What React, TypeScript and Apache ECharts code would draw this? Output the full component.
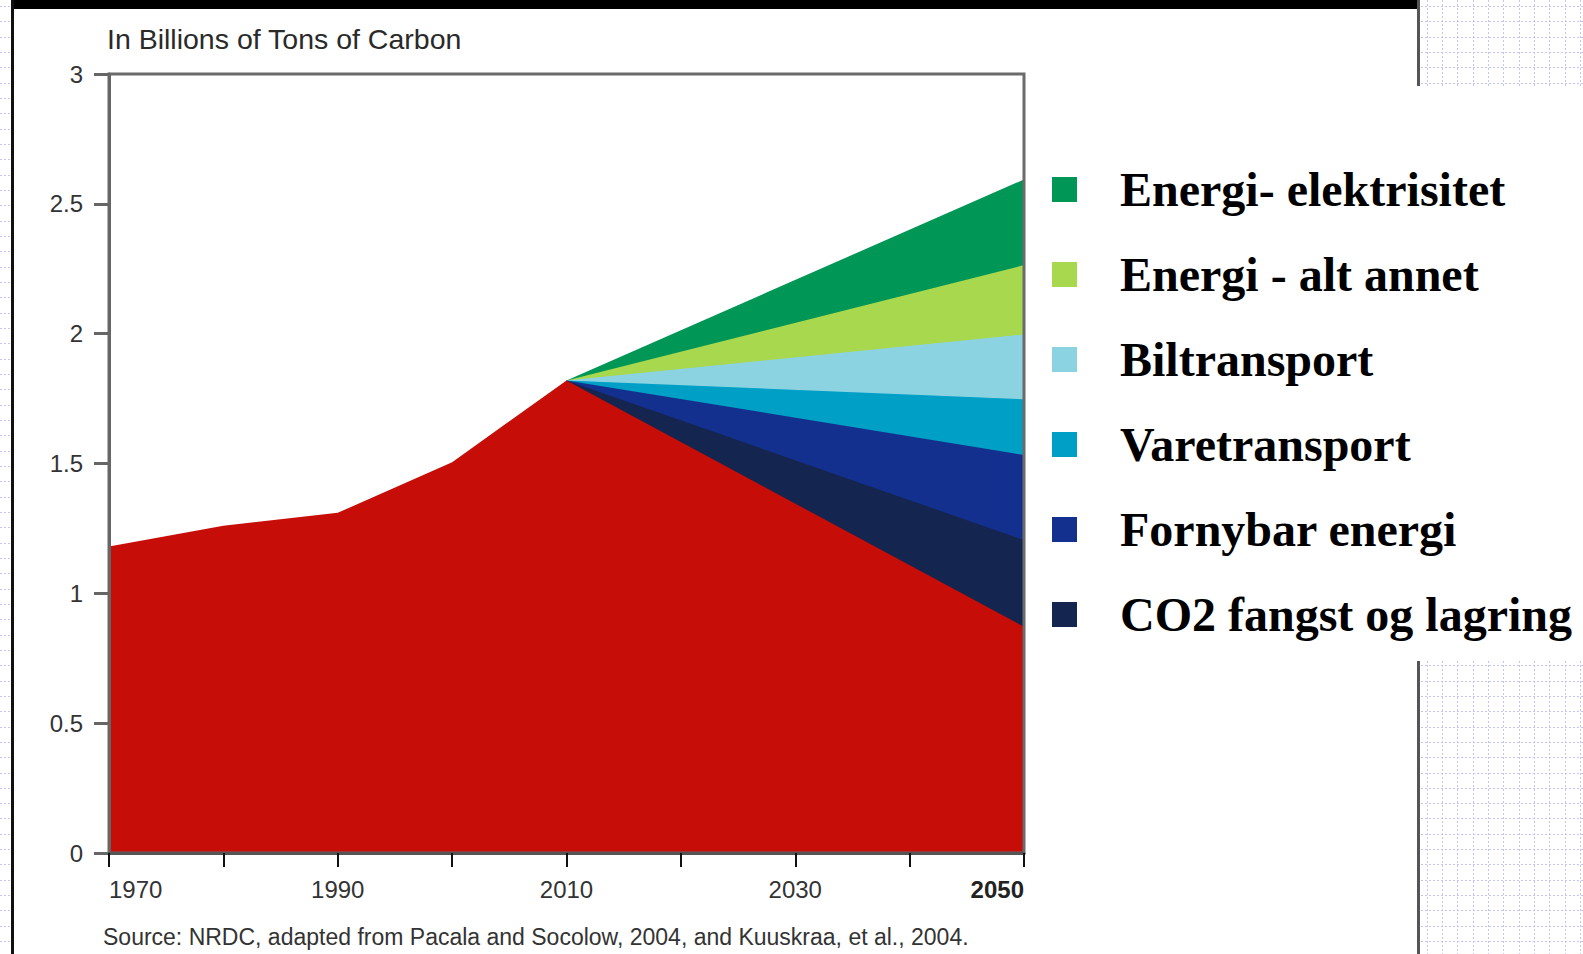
import React, { useEffect, useRef } from "react";
import * as echarts from "echarts";

// ---- data ----
const historyYears = [1970, 1980, 1990, 2000, 2010];
const historyValues = [1.18, 1.26, 1.31, 1.505, 1.82];
const endYear = 2050;
const baseline2050 = 0.871; // remaining emissions (red) in 2050
// wedges, from bottom (next to red) to top, width at 2050
const wedgeNames = [
  "CO2 fangst og lagring",
  "Fornybar energi",
  "Varetransport",
  "Biltransport",
  "Energi - alt annet",
  "Energi- elektrisitet",
];
const wedgeWidths = [0.334, 0.328, 0.214, 0.25, 0.267, 0.33];
const wedgeColors = ["#14264f", "#13308f", "#00a0c6", "#8cd3e2", "#a8d84e", "#009655"];
const redColor = "#c70d07";
const yTicks = [0, 0.5, 1, 1.5, 2, 2.5, 3];
const xLabelYears = [1970, 1990, 2010, 2030, 2050];
const titleText = "In Billions of Tons of Carbon";
const sourceText = "Source: NRDC, adapted from Pacala and Socolow, 2004, and Kuuskraa, et al., 2004.";

function buildDecor(): any[] {
  const out: any[] = [];
  const dot = { stroke: "#c4c4f6", lineWidth: 1, lineDash: [2, 2] };
  const step = 15.33;
  const hLine = (x1: number, x2: number, y: number) =>
    out.push({ type: "line", silent: true, shape: { x1, y1: y, x2, y2: y }, style: dot });
  const vLine = (x: number, y1: number, y2: number) =>
    out.push({ type: "line", silent: true, shape: { x1: x, y1, x2: x, y2 }, style: dot });
  // left strip
  for (let y = 6; y < 954; y += step) hLine(0, 11, Math.round(y) + 0.5);
  // right regions
  const regions = [
    [0, 86],
    [661, 954],
  ];
  regions.forEach(([ya, yb]) => {
    for (let y = 6; y < yb; y += step) if (y >= ya) hLine(1421, 1583, Math.round(y) + 0.5);
    for (let x = 1426.7; x < 1583; x += step) vLine(Math.round(x) + 0.5, ya, yb);
  });
  out.push({ type: "rect", silent: true, shape: { x: 12, y: 0, width: 1408, height: 9 }, style: { fill: "#000" } });
  out.push({ type: "rect", silent: true, shape: { x: 11, y: 0, width: 3, height: 954 }, style: { fill: "#111" } });
  out.push({ type: "rect", silent: true, shape: { x: 1417, y: 0, width: 3, height: 86 }, style: { fill: "#555" } });
  out.push({ type: "rect", silent: true, shape: { x: 1417, y: 661, width: 3, height: 293 }, style: { fill: "#555" } });
  out.push({
    type: "text",
    left: 103,
    top: 925,
    style: { text: sourceText, fill: "#333", font: '23px "Liberation Sans", Arial, sans-serif' },
  });
  return out;
}

export default function App() {
  const ref = useRef<HTMLDivElement>(null);
  useEffect(() => {
    if (!ref.current) return;
    const chart = echarts.init(ref.current, undefined, { renderer: "svg" });
    const start = historyYears[historyYears.length - 1];
    const startValue = historyValues[historyValues.length - 1];
    const wedgeSeries: any[] = [];
    let cum = baseline2050;
    const tops: number[] = [];
    wedgeWidths.forEach((w) => {
      cum += w;
      tops.push(+cum.toFixed(4));
    });
    // draw top-most first, so lower wedges cover it
    for (let i = wedgeNames.length - 1; i >= 0; i--) {
      wedgeSeries.push({
        name: wedgeNames[i],
        type: "line",
        data: [
          [start, startValue],
          [endYear, tops[i]],
        ],
        symbol: "none",
        lineStyle: { width: 0 },
        itemStyle: { color: wedgeColors[i] },
        areaStyle: { color: wedgeColors[i], opacity: 1, origin: "start" },
        z: 2,
      });
    }
    const redData = historyYears.map((y, i) => [y, historyValues[i]]);
    redData.push([endYear, baseline2050]);
    const option: any = {
      animation: false,
      backgroundColor: "#fff",
      textStyle: { fontFamily: '"Liberation Sans", Arial, sans-serif' },
      title: {
        text: titleText,
        left: 107,
        top: 24,
        padding: 0,
        textStyle: { fontSize: 28.5, fontWeight: "normal", color: "#2a2a2a", fontFamily: '"Liberation Sans", Arial, sans-serif' },
      },
      legend: {
        orient: "vertical",
        left: 1052,
        top: 164.5,
        padding: 0,
        itemWidth: 25,
        itemHeight: 25,
        itemGap: 35,
        icon: "rect",
        selectedMode: false,
        data: wedgeNames.slice().reverse(),
        textStyle: {
          fontFamily: '"Liberation Serif", "Times New Roman", serif',
          fontWeight: "bold",
          fontSize: 48,
          color: "#000",
          lineHeight: 50,
          padding: [0, 0, 0, 38],
        },
      },
      grid: {
        left: 109,
        right: 559,
        top: 74,
        bottom: 101,
        show: true,
        borderColor: "#6b6b6b",
        borderWidth: 3,
        backgroundColor: "transparent",
        z: 5,
      },
      xAxis: {
        type: "value",
        min: 1970,
        max: 2050,
        interval: 10,
        splitLine: { show: false },
        axisLine: { show: true, lineStyle: { color: "#555", width: 3 } },
        axisTick: { show: true, length: 14, lineStyle: { color: "#111", width: 2 } },
        axisLabel: {
          margin: 24,
          fontSize: 24,
          color: "#333",
          alignMinLabel: "left",
          alignMaxLabel: "right",
          showMinLabel: true,
          showMaxLabel: true,
          formatter: (v: number) =>
            v === xLabelYears[xLabelYears.length - 1] ? "{b|" + v + "}" : xLabelYears.indexOf(v) >= 0 ? String(v) : "",
          rich: { b: { fontSize: 24, fontWeight: "bold", color: "#222" } },
        },
        z: 6,
      },
      yAxis: {
        type: "value",
        min: yTicks[0],
        max: yTicks[yTicks.length - 1],
        interval: 0.5,
        splitLine: { show: false },
        axisLine: { show: true, lineStyle: { color: "#666", width: 3 } },
        axisTick: { show: true, length: 15, lineStyle: { color: "#666", width: 3 } },
        axisLabel: { margin: 26, fontSize: 24, color: "#333" },
        z: 6,
      },
      series: [
        ...wedgeSeries,
        {
          name: "Utslipp",
          type: "line",
          data: redData,
          symbol: "none",
          lineStyle: { width: 0 },
          itemStyle: { color: redColor },
          areaStyle: { color: redColor, opacity: 1, origin: "start" },
          z: 3,
        },
      ],
      graphic: buildDecor(),
    };
    chart.setOption(option);
    return () => chart.dispose();
  }, []);
  return (
    <div style={{ position: "fixed", left: 0, top: 0, width: 1583, height: 954, background: "#fff" }}>
      <div ref={ref} style={{ width: 1583, height: 954 }} />
    </div>
  );
}
